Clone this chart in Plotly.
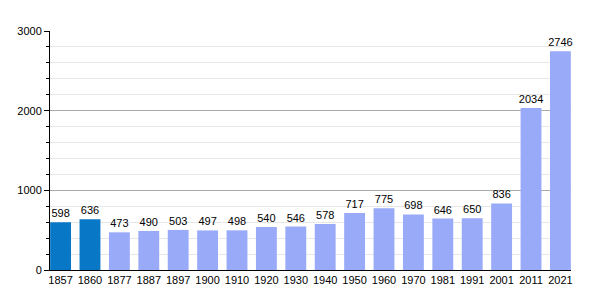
import plotly.graph_objects as go

years = ["1857", "1860", "1877", "1887", "1897", "1900", "1910", "1920", "1930",
         "1940", "1950", "1960", "1970", "1981", "1991", "2001", "2011", "2021"]
population = [598, 636, 473, 490, 503, 497, 498, 540, 546, 578, 717, 775, 698,
              646, 650, 836, 2034, 2746]
dark_count = 2
colors = ["#0877c6"] * dark_count + ["#99aaf9"] * (len(years) - dark_count)

fig = go.Figure(go.Bar(
    x=list(range(len(years))), y=population,
    marker=dict(color=colors, line=dict(width=0)),
    text=[str(v) for v in population], textposition="outside",
    textangle=0, constraintext="none",
    textfont=dict(family="Liberation Sans, Arial", size=11, color="#000"),
    cliponaxis=False, width=0.71,
))

fig.update_layout(
    width=600, height=300,
    margin=dict(l=50, r=29, t=31, b=30),
    paper_bgcolor="white", plot_bgcolor="white",
    showlegend=False,
    font=dict(family="Liberation Sans, Arial", size=11, color="#000"),
    xaxis=dict(
        tickmode="array", tickvals=list(range(len(years))), ticktext=years,
        range=[-0.36, len(years) - 1 + 0.36],
        showgrid=False, showline=True, linecolor="#000", linewidth=1,
        ticks="", tickfont=dict(size=11), zeroline=False,
    ),
    yaxis=dict(
        range=[0, 3000], tickvals=[0, 1000, 2000, 3000],
        showgrid=True, gridcolor="#aaaaaa", gridwidth=1,
        showline=True, linecolor="#000", linewidth=1,
        ticks="outside", ticklen=5, tickcolor="#000",
        tickfont=dict(size=11), zeroline=False,
        minor=dict(dtick=200, showgrid=True, gridcolor="#e6e6e6",
                   ticks="outside", ticklen=3, tickcolor="#000"),
    ),
)

fig.write_html("out.html")
